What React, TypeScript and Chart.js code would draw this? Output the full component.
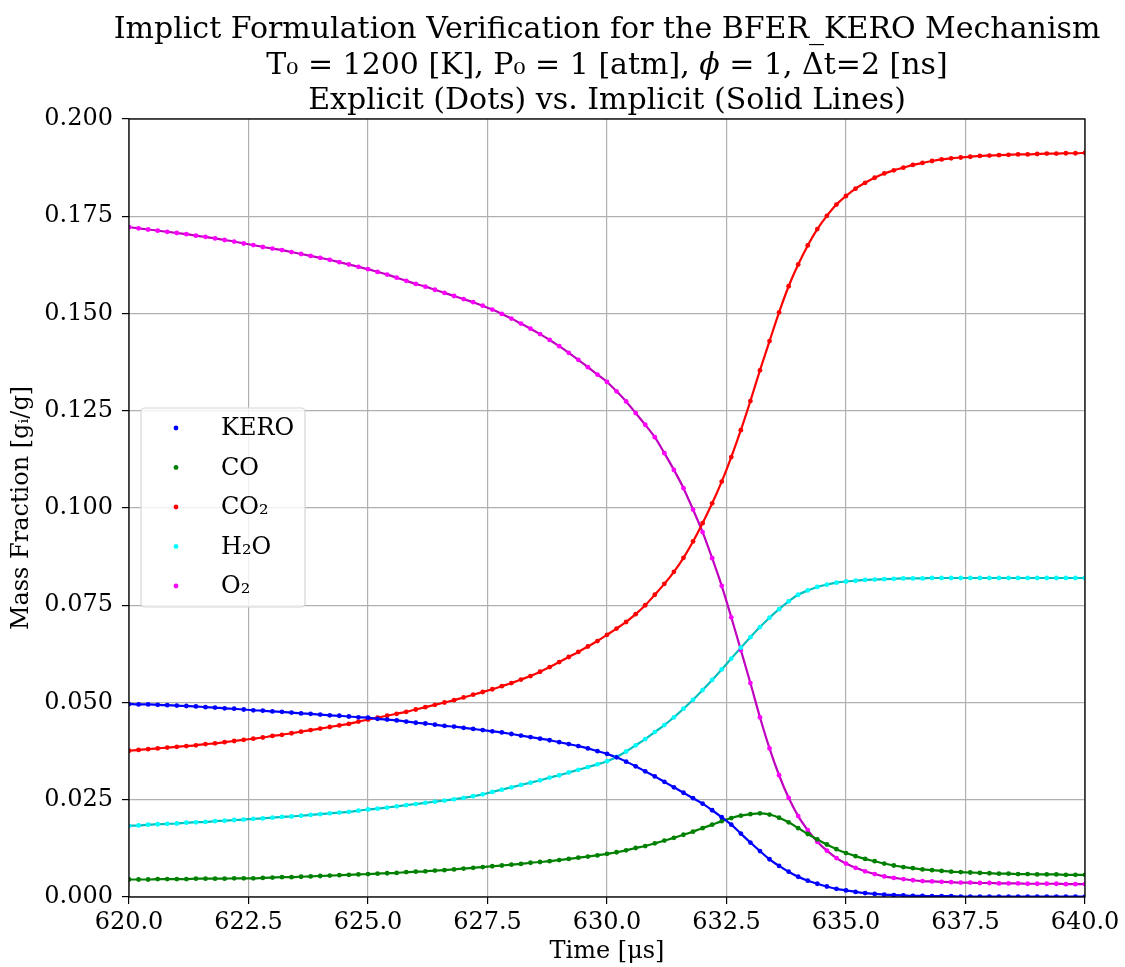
import React, { useEffect, useRef } from "react";
import { Chart, registerables } from "chart.js";

Chart.register(...registerables);

// ---------------- data ----------------
const TIME_US = [
  620.0, 620.2, 620.4, 620.6, 620.8, 621.0, 621.2, 621.4, 621.6, 621.8,
  622.0, 622.2, 622.4, 622.6, 622.8, 623.0, 623.2, 623.4, 623.6, 623.8,
  624.0, 624.2, 624.4, 624.6, 624.8, 625.0, 625.2, 625.4, 625.6, 625.8,
  626.0, 626.2, 626.4, 626.6, 626.8, 627.0, 627.2, 627.4, 627.6, 627.8,
  628.0, 628.2, 628.4, 628.6, 628.8, 629.0, 629.2, 629.4, 629.6, 629.8,
  630.0, 630.2, 630.4, 630.6, 630.8, 631.0, 631.2, 631.4, 631.6, 631.8,
  632.0, 632.2, 632.4, 632.6, 632.8, 633.0, 633.2, 633.4, 633.6, 633.8,
  634.0, 634.2, 634.4, 634.6, 634.8, 635.0, 635.2, 635.4, 635.6, 635.8,
  636.0, 636.2, 636.4, 636.6, 636.8, 637.0, 637.2, 637.4, 637.6, 637.8,
  638.0, 638.2, 638.4, 638.6, 638.8, 639.0, 639.2, 639.4, 639.6, 639.8,
  640.0,
];

const KERO = [
  0.0496, 0.0495, 0.0495, 0.0494, 0.0493, 0.0492, 0.0491, 0.0490, 0.0488, 0.0487,
  0.0485, 0.0484, 0.0482, 0.0480, 0.0479, 0.0477, 0.0476, 0.0474, 0.0472, 0.0471,
  0.0469, 0.0467, 0.0466, 0.0464, 0.0462, 0.0461, 0.0458, 0.0456, 0.0454, 0.0451,
  0.0448, 0.0446, 0.0443, 0.0440, 0.0438, 0.0435, 0.0432, 0.0429, 0.0426, 0.0423,
  0.0419, 0.0415, 0.0411, 0.0407, 0.0403, 0.0398, 0.0393, 0.0388, 0.0382, 0.0375,
  0.0368, 0.0359, 0.0348, 0.0336, 0.0323, 0.0310, 0.0296, 0.0282, 0.0268, 0.0254,
  0.0240, 0.0223, 0.0205, 0.0186, 0.0163, 0.0140, 0.0118, 0.0097, 0.0080, 0.0065,
  0.0052, 0.0042, 0.0034, 0.0027, 0.0021, 0.0017, 0.0013, 0.0010, 0.0008, 0.0006,
  0.0005, 0.0004, 0.0003, 0.0003, 0.0002, 0.0002, 0.0002, 0.0001, 0.0001, 0.0001,
  0.0001, 0.0001, 0.0001, 0.0001, 0.0001, 0.0001, 0.0001, 0.0001, 0.0001, 0.0001,
  0.0001,
];

const CO = [
  0.0045, 0.0045, 0.0045, 0.0046, 0.0046, 0.0046, 0.0046, 0.0047, 0.0047, 0.0047,
  0.0047, 0.0048, 0.0048, 0.0048, 0.0049, 0.0050, 0.0051, 0.0051, 0.0052, 0.0053,
  0.0054, 0.0055, 0.0056, 0.0057, 0.0058, 0.0059, 0.0060, 0.0061, 0.0062, 0.0064,
  0.0065, 0.0066, 0.0068, 0.0069, 0.0071, 0.0073, 0.0075, 0.0077, 0.0079, 0.0081,
  0.0083, 0.0085, 0.0088, 0.0090, 0.0092, 0.0095, 0.0098, 0.0101, 0.0104, 0.0107,
  0.0111, 0.0115, 0.0120, 0.0126, 0.0131, 0.0138, 0.0145, 0.0152, 0.0160, 0.0168,
  0.0177, 0.0186, 0.0195, 0.0203, 0.0209, 0.0213, 0.0215, 0.0212, 0.0204, 0.0192,
  0.0177, 0.0162, 0.0148, 0.0135, 0.0123, 0.0113, 0.0105, 0.0098, 0.0092, 0.0086,
  0.0081, 0.0077, 0.0074, 0.0071, 0.0069, 0.0067, 0.0065, 0.0064, 0.0063, 0.0062,
  0.0061, 0.0060, 0.0060, 0.0059, 0.0059, 0.0058, 0.0058, 0.0058, 0.0057, 0.0057,
  0.0057,
];

const CO2 = [
  0.0376, 0.0378, 0.0380, 0.0382, 0.0384, 0.0386, 0.0388, 0.0390, 0.0393, 0.0395,
  0.0398, 0.0401, 0.0404, 0.0407, 0.0410, 0.0414, 0.0417, 0.0421, 0.0425, 0.0429,
  0.0433, 0.0437, 0.0441, 0.0445, 0.0451, 0.0456, 0.0461, 0.0466, 0.0471, 0.0476,
  0.0482, 0.0488, 0.0494, 0.0500, 0.0506, 0.0513, 0.0520, 0.0527, 0.0534, 0.0542,
  0.0550, 0.0559, 0.0568, 0.0579, 0.0591, 0.0604, 0.0617, 0.0630, 0.0644, 0.0658,
  0.0674, 0.0690, 0.0707, 0.0727, 0.0750, 0.0777, 0.0805, 0.0836, 0.0872, 0.0914,
  0.0961, 0.1012, 0.1068, 0.1131, 0.1200, 0.1275, 0.1354, 0.1429, 0.1503, 0.1570,
  0.1626, 0.1675, 0.1717, 0.1751, 0.1780, 0.1802, 0.1821, 0.1836, 0.1849, 0.1860,
  0.1868, 0.1875, 0.1882, 0.1887, 0.1892, 0.1896, 0.1899, 0.1901, 0.1903, 0.1905,
  0.1906, 0.1907, 0.1908, 0.1909, 0.1909, 0.1910, 0.1911, 0.1911, 0.1912, 0.1912,
  0.1913,
];

const H2O = [
  0.0183, 0.0184, 0.0186, 0.0187, 0.0188, 0.0189, 0.0191, 0.0192, 0.0193, 0.0195,
  0.0196, 0.0198, 0.0199, 0.0201, 0.0202, 0.0204, 0.0206, 0.0207, 0.0209, 0.0211,
  0.0213, 0.0215, 0.0217, 0.0219, 0.0222, 0.0225, 0.0227, 0.0230, 0.0233, 0.0236,
  0.0239, 0.0242, 0.0245, 0.0248, 0.0251, 0.0255, 0.0259, 0.0264, 0.0270, 0.0276,
  0.0282, 0.0288, 0.0294, 0.0300, 0.0307, 0.0313, 0.0320, 0.0327, 0.0334, 0.0341,
  0.0349, 0.0360, 0.0374, 0.0390, 0.0406, 0.0424, 0.0442, 0.0462, 0.0484, 0.0507,
  0.0532, 0.0558, 0.0585, 0.0613, 0.0641, 0.0668, 0.0694, 0.0718, 0.0740, 0.0760,
  0.0777, 0.0788, 0.0797, 0.0803, 0.0808, 0.0811, 0.0813, 0.0815, 0.0816, 0.0817,
  0.0818, 0.0819, 0.0819, 0.0819, 0.0820, 0.0820, 0.0820, 0.0820, 0.0820, 0.0820,
  0.0820, 0.0820, 0.0820, 0.0820, 0.0820, 0.0820, 0.0820, 0.0820, 0.0820, 0.0820,
  0.0820,
];

const O2 = [
  0.1722, 0.1719, 0.1716, 0.1713, 0.1710, 0.1707, 0.1704, 0.1700, 0.1697, 0.1693,
  0.1689, 0.1685, 0.1680, 0.1676, 0.1671, 0.1667, 0.1663, 0.1658, 0.1653, 0.1648,
  0.1643, 0.1638, 0.1632, 0.1626, 0.1620, 0.1614, 0.1607, 0.1600, 0.1592, 0.1584,
  0.1576, 0.1569, 0.1561, 0.1553, 0.1545, 0.1537, 0.1529, 0.1520, 0.1510, 0.1499,
  0.1487, 0.1474, 0.1461, 0.1447, 0.1432, 0.1416, 0.1399, 0.1381, 0.1362, 0.1343,
  0.1324, 0.1300, 0.1274, 0.1244, 0.1214, 0.1182, 0.1141, 0.1098, 0.1051, 0.0996,
  0.0938, 0.0871, 0.0800, 0.0719, 0.0635, 0.0550, 0.0462, 0.0382, 0.0313, 0.0255,
  0.0208, 0.0172, 0.0142, 0.0119, 0.0100, 0.0086, 0.0075, 0.0066, 0.0059, 0.0053,
  0.0049, 0.0046, 0.0043, 0.0041, 0.0040, 0.0039, 0.0038, 0.0037, 0.0037, 0.0036,
  0.0036, 0.0035, 0.0035, 0.0035, 0.0034, 0.0034, 0.0034, 0.0034, 0.0033, 0.0033,
  0.0033,
];

const SPECIES_LABELS = ["KERO", "CO", "CO₂", "H₂O", "O₂"];
const SPECIES_VALUES = [KERO, CO, CO2, H2O, O2];
const DOT_COLORS = ["#0000ff", "#008000", "#ff0000", "#00ffff", "#ff00ff"];
const LINE_COLORS = ["#0000ff", "#008000", "#ff0000", "#00bfbf", "#bf00bf"];

const X_TICKS = [620.0, 622.5, 625.0, 627.5, 630.0, 632.5, 635.0, 637.5, 640.0];
const Y_TICKS = [0.0, 0.025, 0.05, 0.075, 0.1, 0.125, 0.15, 0.175, 0.2];

// each title line is a list of [text, italic] runs
const TITLE_LINES: [string, boolean][][] = [
  [["Implict Formulation Verification for the BFER_KERO Mechanism", false]],
  [
    ["T₀ = 1200 [K], P₀ = 1 [atm], ", false],
    ["ϕ", true],
    [" = 1, Δt=2 [ns]", false],
  ],
  [["Explicit (Dots) vs. Implicit (Solid Lines)", false]],
];
const X_TITLE = "Time [μs]";
const Y_TITLE = "Mass Fraction [gᵢ/g]";

// ---------------- styles ----------------
const FONT = "'DejaVu Serif', serif";
const W = 1125;
const H = 967;

const titlePlugin = {
  id: "multiTitle",
  afterDraw(chart: any) {
    const { ctx, chartArea } = chart;
    const cx = (chartArea.left + chartArea.right) / 2;
    const normal = `30px ${FONT}`;
    const italic = `italic 30px ${FONT}`;
    ctx.save();
    ctx.fillStyle = "#000";
    ctx.textAlign = "left";
    ctx.textBaseline = "alphabetic";
    TITLE_LINES.forEach((runs, i) => {
      const widths = runs.map(([t, it]) => {
        ctx.font = it ? italic : normal;
        return ctx.measureText(t).width;
      });
      const total = widths.reduce((a, b) => a + b, 0);
      let x = cx - total / 2;
      const y = 38 + i * 35.5;
      runs.forEach(([t, it], k) => {
        ctx.font = it ? italic : normal;
        ctx.fillText(t, x, y);
        x += widths[k];
      });
    });
    ctx.restore();
  },
};

const framePlugin = {
  id: "frame",
  afterDatasetsDraw(chart: any) {
    const { ctx, chartArea } = chart;
    ctx.save();
    ctx.strokeStyle = "#000";
    ctx.lineWidth = 1.3;
    ctx.strokeRect(
      chartArea.left,
      chartArea.top,
      chartArea.right - chartArea.left,
      chartArea.bottom - chartArea.top
    );
    ctx.restore();
  },
};

const legendPlugin = {
  id: "innerLegend",
  afterDraw(chart: any) {
    const { ctx } = chart;
    const items = chart.data.datasets.filter((d: any) => d.isDots);
    const x0 = 141;
    const y0 = 408;
    const w = 164;
    const h = 199;
    const r = 4;
    ctx.save();
    ctx.beginPath();
    ctx.moveTo(x0 + r, y0);
    ctx.lineTo(x0 + w - r, y0);
    ctx.quadraticCurveTo(x0 + w, y0, x0 + w, y0 + r);
    ctx.lineTo(x0 + w, y0 + h - r);
    ctx.quadraticCurveTo(x0 + w, y0 + h, x0 + w - r, y0 + h);
    ctx.lineTo(x0 + r, y0 + h);
    ctx.quadraticCurveTo(x0, y0 + h, x0, y0 + h - r);
    ctx.lineTo(x0, y0 + r);
    ctx.quadraticCurveTo(x0, y0, x0 + r, y0);
    ctx.closePath();
    ctx.fillStyle = "rgba(255,255,255,0.8)";
    ctx.fill();
    ctx.strokeStyle = "#d6d6d6";
    ctx.lineWidth = 1.2;
    ctx.stroke();
    ctx.font = `24px ${FONT}`;
    ctx.textAlign = "left";
    ctx.textBaseline = "middle";
    items.forEach((d: any, i: number) => {
      const cy = 428 + i * 39.5;
      ctx.fillStyle = d.backgroundColor;
      ctx.beginPath();
      ctx.arc(176, cy, 2.4, 0, Math.PI * 2);
      ctx.fill();
      ctx.fillStyle = "#000";
      ctx.fillText(d.label, 221, cy + 1);
    });
    ctx.restore();
  },
};

export default function App() {
  const canvasRef = useRef<HTMLCanvasElement | null>(null);

  useEffect(() => {
    const canvas = canvasRef.current;
    if (!canvas) return;

    const toPoints = (vals: number[]) =>
      vals.map((v, i) => ({ x: TIME_US[i], y: v }));

    const dotSets = SPECIES_VALUES.map((vals, k) => ({
      type: "scatter" as const,
      label: SPECIES_LABELS[k],
      isDots: true,
      data: toPoints(vals),
      showLine: false,
      pointRadius: 2.4,
      pointHoverRadius: 2.4,
      pointBorderWidth: 0,
      backgroundColor: DOT_COLORS[k],
      borderColor: DOT_COLORS[k],
    }));
    const lineSets = SPECIES_VALUES.map((vals, k) => ({
      type: "line" as const,
      label: "",
      isDots: false,
      data: toPoints(vals),
      borderColor: LINE_COLORS[k],
      backgroundColor: LINE_COLORS[k],
      borderWidth: 2.2,
      pointRadius: 0,
      fill: false,
      cubicInterpolationMode: "monotone" as const,
    }));

    const chart = new Chart(canvas, {
      type: "scatter",
      data: { datasets: [...dotSets, ...lineSets] as any },
      options: {
        animation: false,
        responsive: false,
        devicePixelRatio: 1,
        events: [],
        layout: { padding: { top: 119, right: 40, left: 0, bottom: 0 } },
        plugins: {
          legend: { display: false },
          title: { display: false },
          tooltip: { enabled: false },
        },
        scales: {
          x: {
            type: "linear",
            min: 620,
            max: 640,
            afterBuildTicks: (scale: any) => {
              scale.ticks = X_TICKS.map((v) => ({ value: v }));
            },
            afterFit: (scale: any) => {
              scale.height = 70;
            },
            ticks: {
              color: "#000",
              font: { family: FONT, size: 24 },
              padding: 4,
              maxRotation: 0,
              autoSkip: false,
              callback: (v: any) => Number(v).toFixed(1),
            },
            grid: {
              color: "#b0b0b0",
              lineWidth: 1.2,
              drawTicks: true,
              tickLength: 7,
              tickColor: "#000",
              tickWidth: 1.2,
            },
            border: { display: false },
            title: {
              display: true,
              text: X_TITLE,
              color: "#000",
              font: { family: FONT, size: 24 },
              padding: { top: 2, bottom: 1 },
            },
          },
          y: {
            type: "linear",
            min: 0,
            max: 0.2,
            afterBuildTicks: (scale: any) => {
              scale.ticks = Y_TICKS.map((v) => ({ value: v }));
            },
            afterFit: (scale: any) => {
              scale.width = 129;
            },
            ticks: {
              color: "#000",
              font: { family: FONT, size: 24 },
              padding: 9,
              autoSkip: false,
              callback: (v: any) => Number(v).toFixed(3),
            },
            grid: {
              color: "#b0b0b0",
              lineWidth: 1.2,
              drawTicks: true,
              tickLength: 7,
              tickColor: "#000",
              tickWidth: 1.2,
            },
            border: { display: false },
            title: {
              display: true,
              text: Y_TITLE,
              color: "#000",
              font: { family: FONT, size: 24 },
              padding: { top: 7, bottom: 0 },
            },
          },
        },
      } as any,
      plugins: [titlePlugin, framePlugin, legendPlugin],
    });

    return () => chart.destroy();
  }, []);

  return (
    <div
      style={{
        position: "fixed",
        left: 0,
        top: 0,
        width: W,
        height: H,
        background: "#fff",
      }}
    >
      <canvas ref={canvasRef} width={W} height={H} style={{ width: W, height: H }} />
    </div>
  );
}
